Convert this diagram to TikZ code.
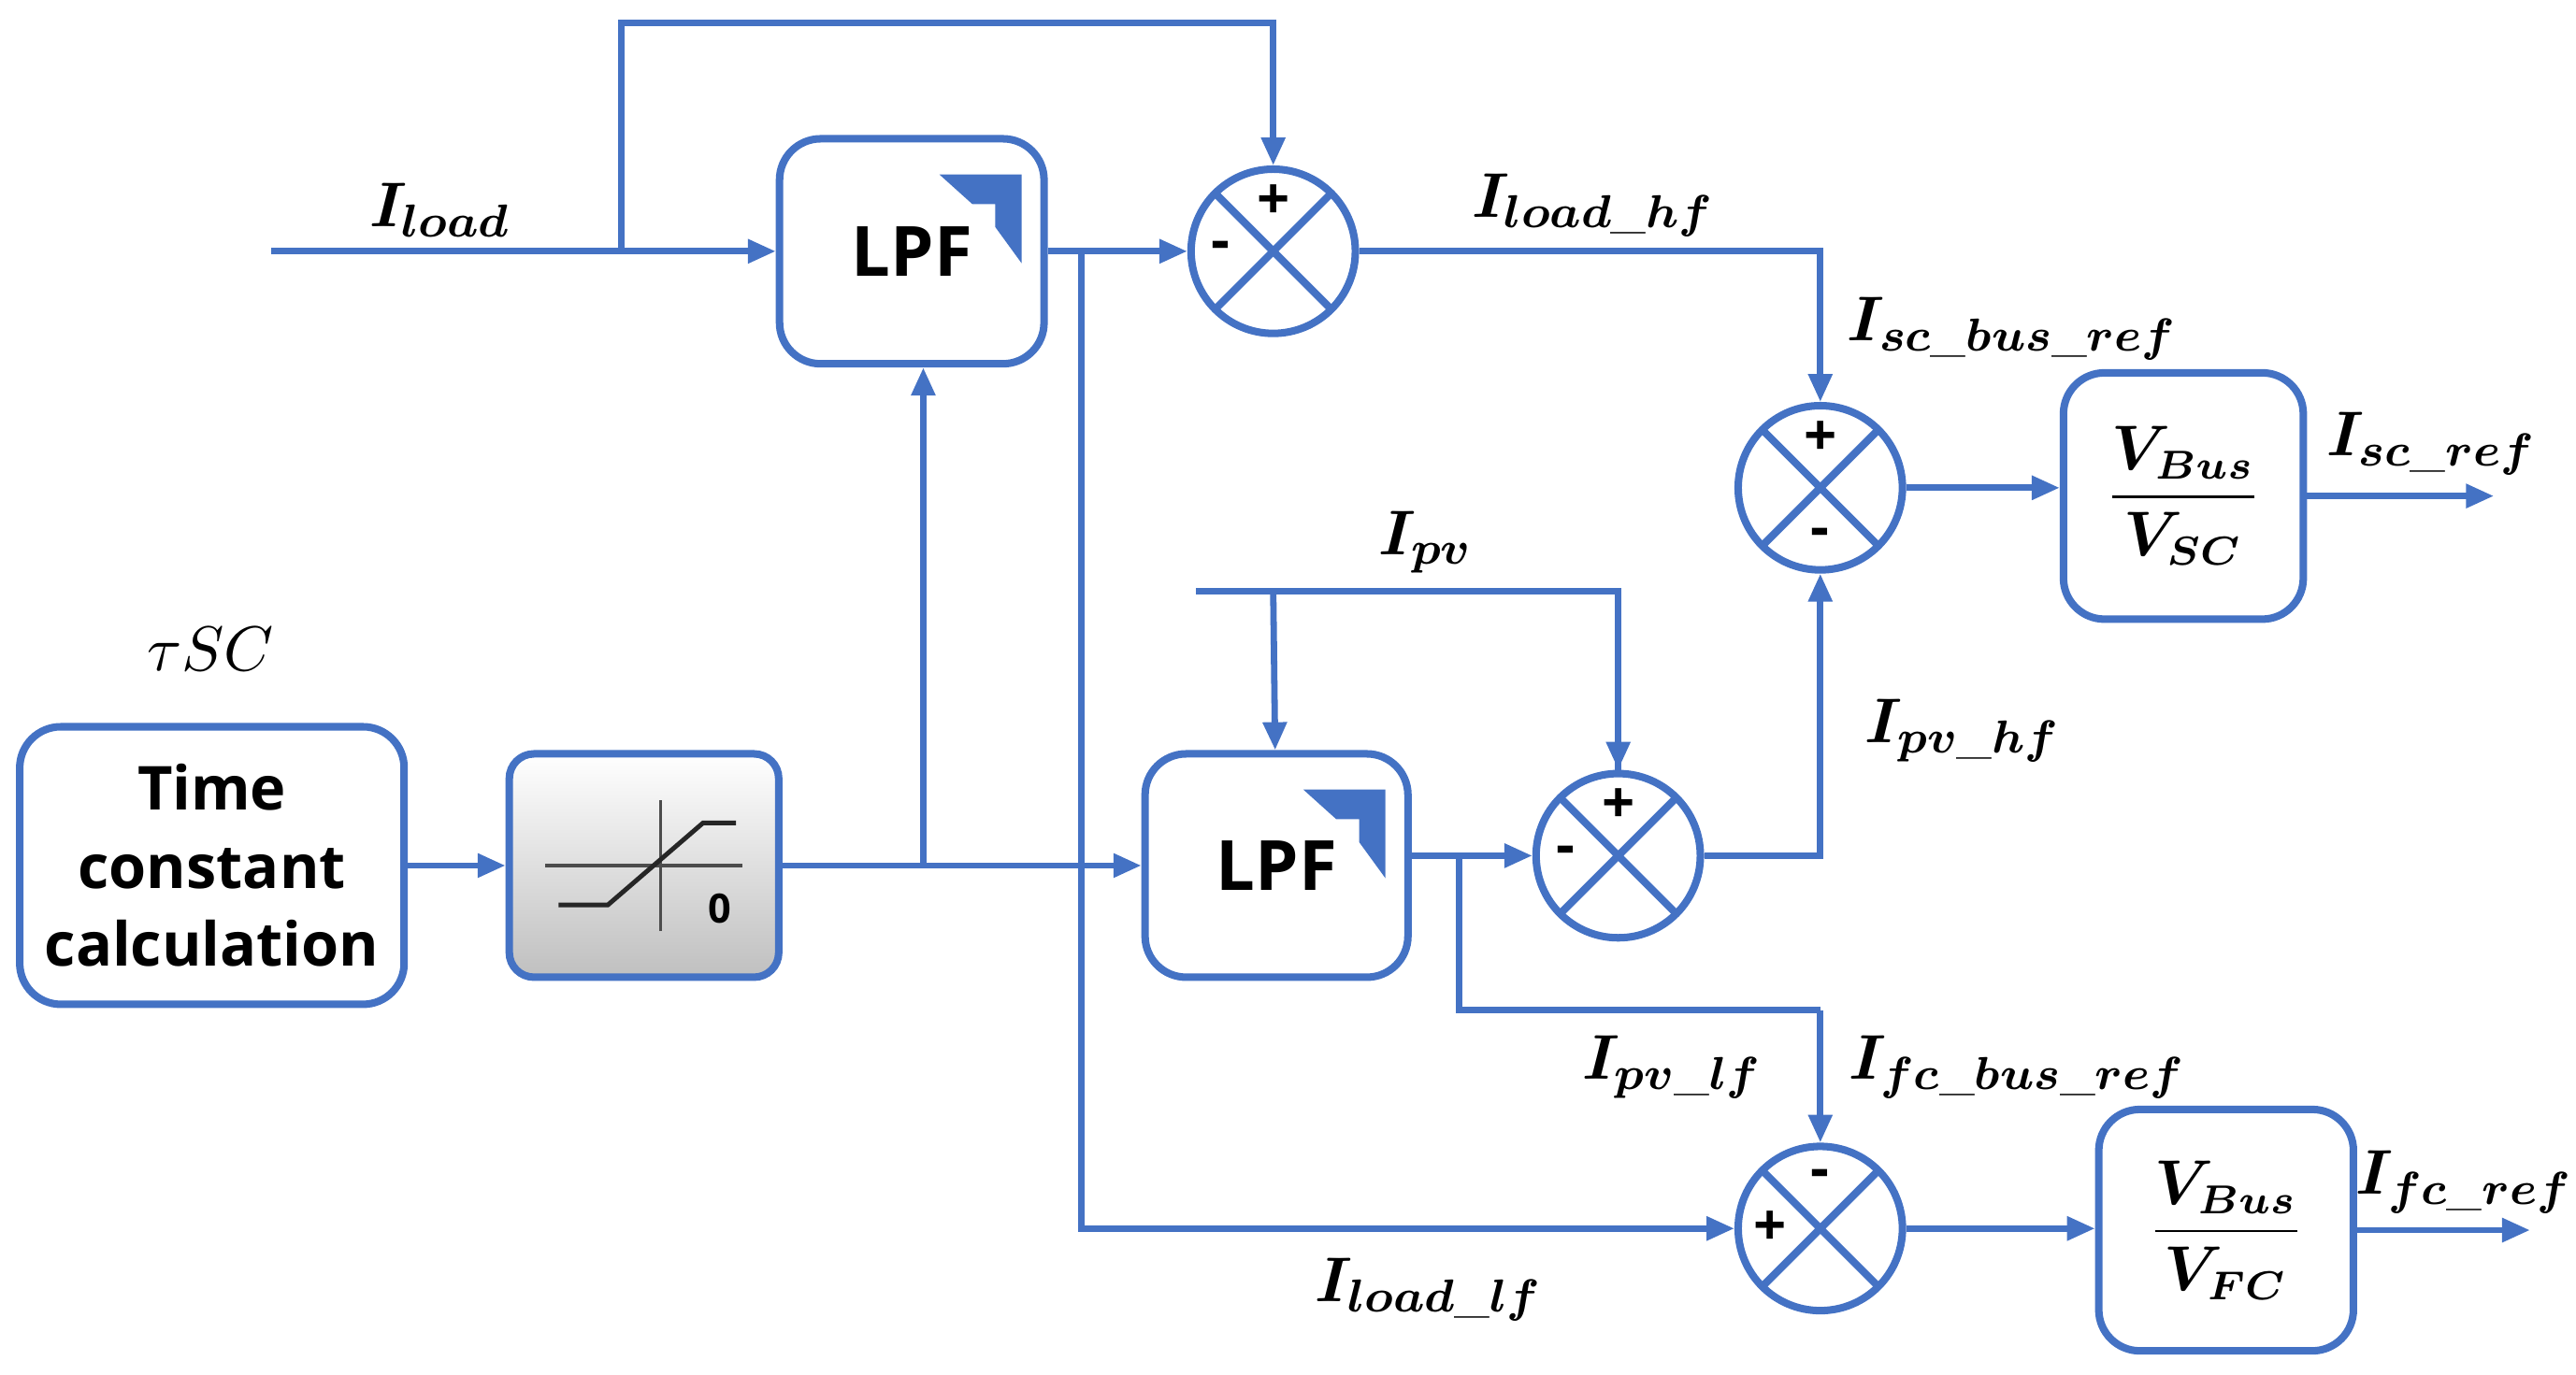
\documentclass[tikz,border=0pt]{standalone}
\usepackage{fontspec}
\usepackage{amsmath,bm}
\newfontfamily\blockfont{Open Sans}
\usetikzlibrary{arrows.meta,positioning}
\definecolor{lineblue}{RGB}{68,114,196}
\tikzset{
  sig/.style={draw=lineblue, line width=1.1pt, -{Triangle[length=1.7mm,width=1.4mm]}},
  wire/.style={draw=lineblue, line width=1.1pt},
  block/.style={draw=lineblue, line width=1.3pt, rounded corners=2.5mm, fill=white, font=\blockfont\bfseries\fontsize{10.5}{13.5}\selectfont, align=center, inner sep=1pt},
  sum/.style={circle, draw=lineblue, line width=1.3pt, minimum size=1cm, inner sep=0pt,
    path picture={\draw[lineblue, line width=1.3pt] (path picture bounding box.north west) -- (path picture bounding box.south east)
      (path picture bounding box.north east) -- (path picture bounding box.south west);}},
  sgn/.style={font=\blockfont\bfseries\fontsize{10}{10}\selectfont, inner sep=0pt},
  lbl/.style={font=\fontsize{11}{13}\selectfont, inner sep=0pt}
}
\newcommand{\lpficon}[1]{\fill[lineblue] ([xshift=-6.6mm,yshift=-2.4mm]#1.north east) -- ([xshift=-1.6mm,yshift=-2.4mm]#1.north east)
  -- ([xshift=-1.6mm,yshift=-7.8mm]#1.north east) -- ([xshift=-3.2mm,yshift=-5.6mm]#1.north east)
  -- ([xshift=-3.2mm,yshift=-4.2mm]#1.north east) -- ([xshift=-4.6mm,yshift=-4.2mm]#1.north east) -- cycle;}
\begin{document}
\begin{tikzpicture}
\useasboundingbox (0,0) rectangle (15.68,-8.37);
% blocks
\node[block, minimum width=2.34cm, minimum height=1.69cm] (tc) at (1.29,-5.27) {Time\\constant\\calculation};
\node[block, minimum width=1.64cm, minimum height=1.36cm, rounded corners=1.5mm, top color=white, bottom color=black!25] (sat) at (3.92,-5.27) {};
\node[block, minimum width=1.61cm, minimum height=1.37cm, font=\blockfont\bfseries\fontsize{12}{14}\selectfont] (lpfa) at (5.55,-1.53) {LPF};
\node[block, minimum width=1.60cm, minimum height=1.36cm, font=\blockfont\bfseries\fontsize{12}{14}\selectfont] (lpfb) at (7.77,-5.27) {LPF};
\node[block, minimum width=1.46cm, minimum height=1.50cm] (gsc) at (13.29,-3.02) {$\dfrac{\bm{V_{Bus}}}{\bm{V_{SC}}}$};
\node[block, minimum width=1.55cm, minimum height=1.47cm] (gfc) at (13.55,-7.49) {$\dfrac{\bm{V_{Bus}}}{\bm{V_{FC}}}$};
\lpficon{lpfa}
\lpficon{lpfb}
% saturation symbol
\draw[black!70, line width=0.5pt] ([xshift=-6mm]sat.center) -- ([xshift=6mm]sat.center)
  ([xshift=1mm,yshift=-4mm]sat.center) -- ([xshift=1mm,yshift=4mm]sat.center);
\draw[black!85, line width=0.8pt] ([xshift=-5.2mm,yshift=-2.4mm]sat.center) -- ([xshift=-2.2mm,yshift=-2.4mm]sat.center)
  -- ([xshift=3.6mm,yshift=2.6mm]sat.center) -- ([xshift=5.6mm,yshift=2.6mm]sat.center);
\node[font=\blockfont\bfseries\scriptsize] (zero) at ([xshift=4.6mm,yshift=-2.6mm]sat.center) {0};
% summing junctions
\node[sum] (s1) at (7.75,-1.53) {};
\node[sum] (s2) at (9.85,-5.21) {};
\node[sum] (s3) at (11.08,-2.97) {};
\node[sum] (s4) at (11.08,-7.48) {};
\node[sgn] (s1p) at ([yshift=-2.2mm]s1.north) {+};
\node[sgn] (s1m) at ([xshift=2mm]s1.west) {-};
\node[sgn] (s2p) at ([yshift=-2.2mm]s2.north) {+};
\node[sgn] (s2m) at ([xshift=2mm]s2.west) {-};
\node[sgn] (s3p) at ([yshift=-2.2mm]s3.north) {+};
\node[sgn] (s3m) at ([yshift=2.2mm]s3.south) {-};
\node[sgn] (s4m) at ([yshift=-2.2mm]s4.north) {-};
\node[sgn] (s4p) at ([xshift=2.2mm]s4.west) {+};
% free ends and branch points
\coordinate (iin) at (1.65,-1.53);
\coordinate (ba) at (3.78,-1.53);
\coordinate (bb) at (5.62,-5.27);
\coordinate (bc) at (6.58,-1.53);
\coordinate (pvin) at (7.28,-3.60);
\coordinate (bd) at (7.75,-3.60);
\coordinate (be) at (8.88,-5.21);
\coordinate (osc) at (15.18,-3.02);
\coordinate (ofc) at (15.40,-7.49);
% labels
\node[lbl] (tau) at (1.28,-3.95) {$\tau SC$};
\node[lbl] (lload) at (2.68,-1.28) {$\bm{I_{load}}$};
\node[lbl] (lhf) at (9.70,-1.25) {$\bm{I_{load\_hf}}$};
\node[lbl] (lscb) at (12.25,-2.00) {$\bm{I_{sc\_bus\_ref}}$};
\node[lbl] (lscr) at (14.80,-2.70) {$\bm{I_{sc\_ref}}$};
\node[lbl] (lpv) at (8.68,-3.30) {$\bm{I_{pv}}$};
\node[lbl] (lpvhf) at (11.95,-4.45) {$\bm{I_{pv\_hf}}$};
\node[lbl] (lpvlf) at (10.18,-6.50) {$\bm{I_{pv\_lf}}$};
\node[lbl] (lfcb) at (12.28,-6.50) {$\bm{I_{fc\_bus\_ref}}$};
\node[lbl] (lfcr) at (15.00,-7.20) {$\bm{I_{fc\_ref}}$};
\node[lbl] (llf) at (8.70,-7.85) {$\bm{I_{load\_lf}}$};
% connectors
\draw[sig] (iin) -- (lpfa);
\draw[sig] (ba) |- (7.75,-0.14) -- (s1);
\draw[sig] (lpfa) -- (s1);
\draw[sig] (bc) |- (s4);
\draw[sig] (s1) -| (s3);
\draw[sig] (tc) -- (sat);
\draw[sig] (sat) -- (lpfb);
\draw[sig] (bb) -- (bb |- lpfa.south);
\draw[wire] (pvin) -| (s2);
\draw[sig] (9.85,-3.60) -- (s2);
\draw[sig] (bd) -- (lpfb);
\draw[sig] (lpfb.east |- s2) -- (s2);
\draw[wire] (be) |- (11.08,-6.15);
\draw[sig] (11.08,-6.15) -- (s4);
\draw[sig] (s2) -| (s3);
\draw[sig] (s3) -- (s3 -| gsc.west);
\draw[sig] (gsc) -- (osc);
\draw[sig] (s4) -- (s4 -| gfc.west);
\draw[sig] (gfc) -- (ofc);
\end{tikzpicture}
\end{document}
